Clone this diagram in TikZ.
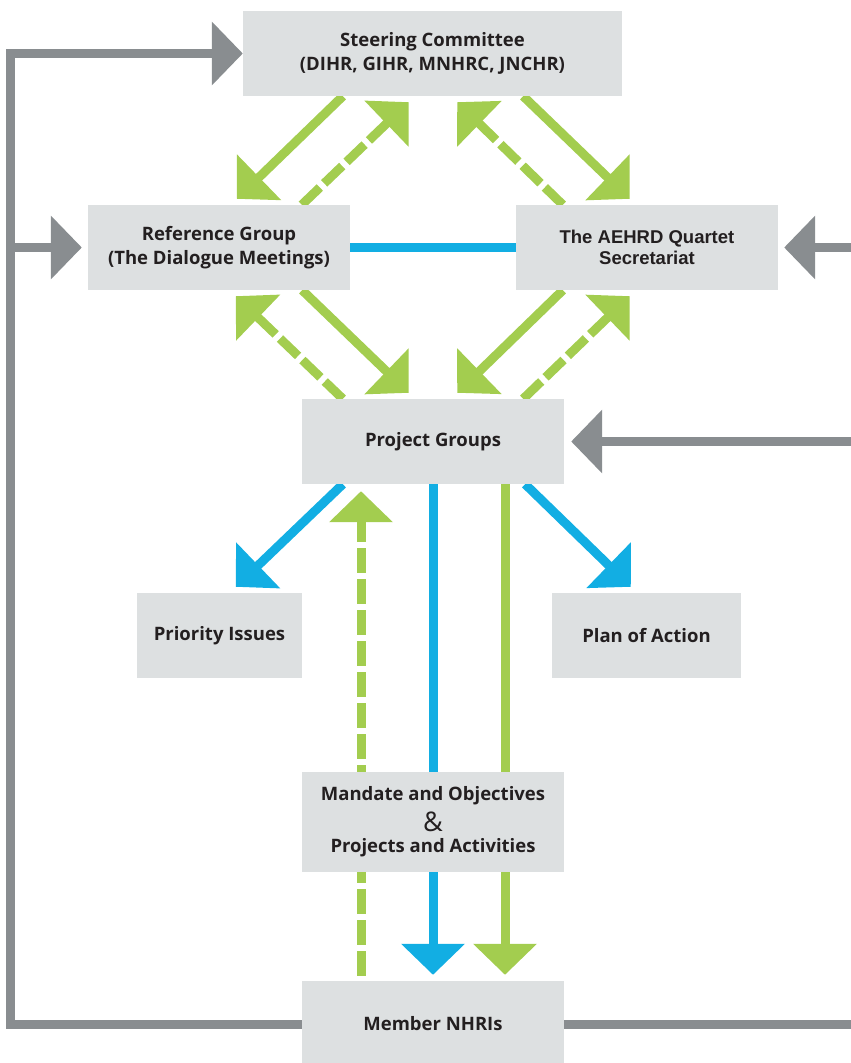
\documentclass[tikz,border=0pt]{standalone}
\usepackage{fontspec}
\setmainfont{Open Sans}
\newfontfamily\arialfont{Liberation Sans}
\usetikzlibrary{arrows.meta,calc,backgrounds}

\definecolor{boxgray}{HTML}{DDE0E1}
\definecolor{leafgreen}{HTML}{A3CD4F}
\definecolor{skyblue}{HTML}{12AEE3}
\definecolor{railgray}{HTML}{898D90}
\definecolor{inkblack}{HTML}{231F20}

\tikzset{
  box/.style={fill=boxgray, inner sep=0pt, align=center, text=inkblack,
    font=\bfseries\fontsize{18.5}{24}\selectfont},
  bigtip/.style={-{Triangle[length=31pt,width=62pt]}},
  greenline/.style={draw=leafgreen, line width=9pt},
  blueline/.style={draw=skyblue, line width=9pt},
  grayline/.style={draw=railgray, line width=9pt, line join=miter},
  dashline/.style={dash pattern=on 25pt off 6pt},
}

\begin{document}
\begin{tikzpicture}[x=1pt, y=-1pt]
    \useasboundingbox (0,0) rectangle (851,1063);

    % boxes
    \node[box, minimum width=379, minimum height=85] (steer) at (432.5,53.5) {Steering Committee\\(DIHR, GIHR, MNHRC, JNCHR)};
    \node[box, minimum width=262, minimum height=85] (ref) at (219,247.5) {Reference Group\\(The Dialogue Meetings)};
    \node[box, minimum width=262, minimum height=85, font=\arialfont\bfseries\fontsize{18.5}{21}\selectfont] (sec) at (647,247.5) {The AEHRD Quartet\\Secretariat};
    \node[box, minimum width=262, minimum height=85] (proj) at (433,441.5) {Project Groups};
    \node[box, minimum width=165, minimum height=85] (prio) at (219.5,635.5) {Priority Issues};
    \node[box, minimum width=189, minimum height=85] (plan) at (646.5,635.5) {Plan of Action};
    \node[box, minimum width=262, minimum height=100] (mand) at (433,822) {Mandate and Objectives\\[6pt]{\mdseries\fontsize{27}{24}\selectfont\&}\\[-3pt]Projects and Activities};
    \node[box, minimum width=262, minimum height=86] (member) at (433,1024) {Member NHRIs};

    \coordinate (lft) at (10.5,53.5);
    \coordinate (rgt) at (851,0);

    \begin{scope}[on background layer]
        % outer gray rails
        \draw[grayline, bigtip] (member.west) -| (lft) -- (steer.west);
        \draw[grayline, bigtip, shorten >=6pt] (lft |- ref.west) -- (ref.west);
        \draw[grayline, bigtip, shorten >=6pt] (rgt |- sec.east) -- (sec.east);
        \draw[grayline, bigtip, shorten >=7pt] (rgt |- proj.east) -- (proj.east);
        \draw[grayline] (member.east) -- (rgt |- member.east);

        % upper diamond
        \draw[greenline, bigtip] ($(steer.south west)+(100,0)$) -- ($(ref.north west)+(149,-6)$);
        \draw[greenline, dashline, bigtip] ($(ref.north west)+(214,0)$) -- ($(steer.south west)+(166,6)$);
        \draw[greenline, bigtip] ($(steer.south east)+(-99,0)$) -- ($(sec.north west)+(114,-6)$);
        \draw[greenline, dashline, bigtip] ($(sec.north west)+(47,0)$) -- ($(steer.south east)+(-165,6)$);
        \draw[blueline] (ref.east) -- (sec.west);

        % lower diamond
        \draw[greenline, bigtip] ($(ref.south east)+(-48,0)$) -- ($(proj.north west)+(107,-6)$);
        \draw[greenline, dashline, bigtip] ($(proj.north west)+(41,0)$) -- ($(ref.south west)+(148,6)$);
        \draw[greenline, bigtip] ($(sec.south west)+(47,0)$) -- ($(proj.north east)+(-107,-6)$);
        \draw[greenline, dashline, bigtip] ($(proj.north east)+(-41,0)$) -- ($(sec.south west)+(114,6)$);

        % out of the project groups
        \draw[blueline, bigtip] ($(proj.south west)+(41,0)$) -- ($(prio.north west)+(99,-6)$);
        \draw[blueline, bigtip] ($(proj.south east)+(-39,0)$) -- ($(plan.north west)+(79,-6)$);
        \draw[blueline, bigtip, shorten >=6pt] (proj.south) -- (member.north);
        \draw[greenline, bigtip, shorten >=6pt] ($(proj.south)+(72,0)$) -- ($(member.north)+(72,0)$);
        \draw[greenline, dashline, bigtip, shorten <=5pt, shorten >=7pt] ($(member.north)+(-72,0)$) -- ($(proj.south)+(-72,0)$);
    \end{scope}
\end{tikzpicture}
\end{document}
